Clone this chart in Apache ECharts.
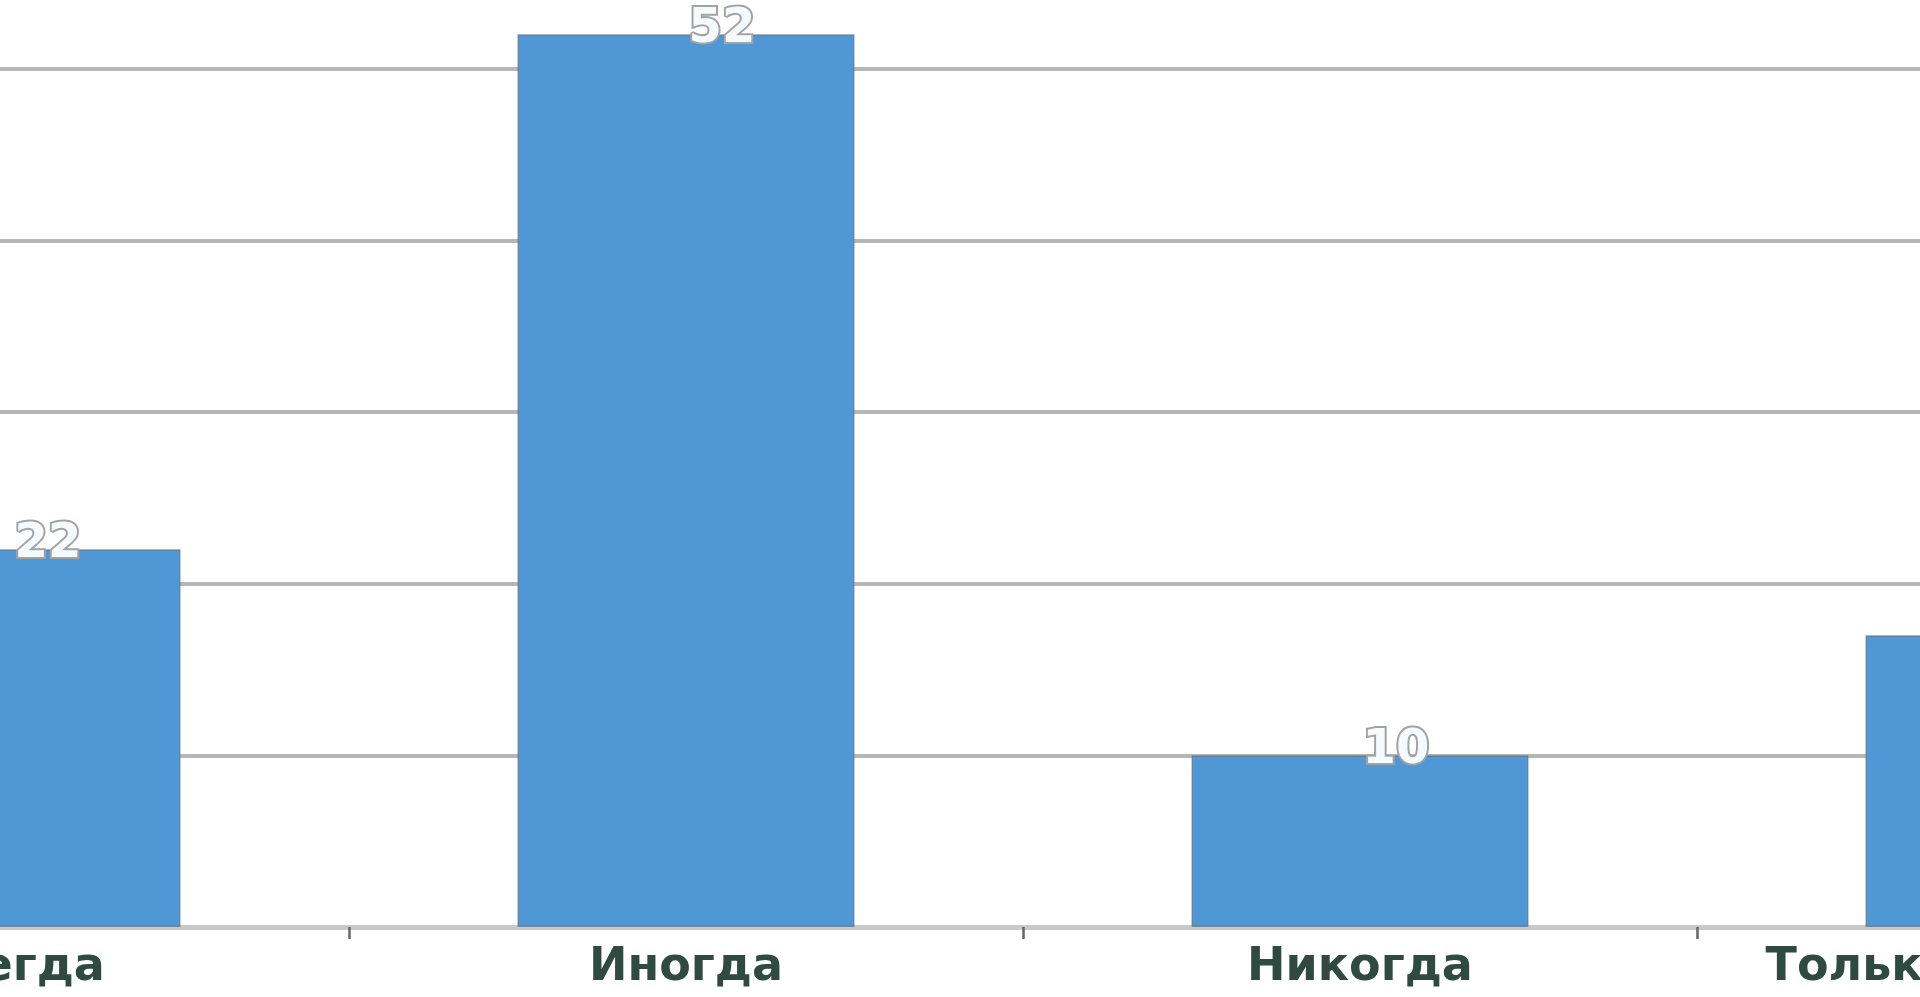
<!DOCTYPE html>
<html>
<head>
<meta charset="utf-8">
<title>Chart</title>
<script src="https://cdn.jsdelivr.net/npm/echarts@6/dist/echarts.min.js"></script>
<style>
  html, body { margin: 0; padding: 0; background: #fff; }
  #chart { width: 1920px; height: 997px; }
</style>
</head>
<body>
<div id="chart"></div>
<script>
// chart data
const categories = ['Всегда', 'Иногда', 'Никогда', 'Только в праздники']
const values = [22, 52, 10, 17]

const chart = echarts.init(document.getElementById('chart'))

chart.setOption({
  animation: false,
  backgroundColor: '#ffffff',
  // the plot is cropped: it runs past the left and right edges of the page
  grid: {
    left: -325,
    width: 2696,
    bottom: 70,
    height: 1030,
    outerBoundsMode: 'none'
  },
  xAxis: {
    type: 'category',
    data: categories,
    axisLine: { lineStyle: { color: '#c9c9c9', width: 5 } },
    axisTick: { show: true, length: 12, lineStyle: { color: '#666666', width: 2.5 } },
    axisLabel: {
      interval: 0,
      margin: 18,
      fontSize: 46,
      fontWeight: 'bold',
      fontFamily: 'DejaVu Sans',
      color: '#2e4a41'
    }
  },
  yAxis: {
    type: 'value',
    min: 0,
    max: 60,
    interval: 10,
    axisLine: { show: false },
    axisTick: { show: false },
    axisLabel: { show: false },
    splitLine: { lineStyle: { color: '#b6b6b6', width: 4 } }
  },
  series: [{
    type: 'bar',
    data: values,
    barCategoryGap: '50%',
    itemStyle: {
      color: '#5097d6',
      borderColor: 'rgba(95,115,135,0.7)',
      borderWidth: 1.5
    },
    label: {
      show: true,
      position: 'top',
      distance: 0,
      offset: [36, 19],
      fontSize: 48,
      fontWeight: 'bold',
      fontFamily: 'DejaVu Sans',
      color: '#f4fbff',
      textBorderColor: '#a3a3a3',
      textBorderWidth: 4
    }
  }]
})
</script>
</body>
</html>
